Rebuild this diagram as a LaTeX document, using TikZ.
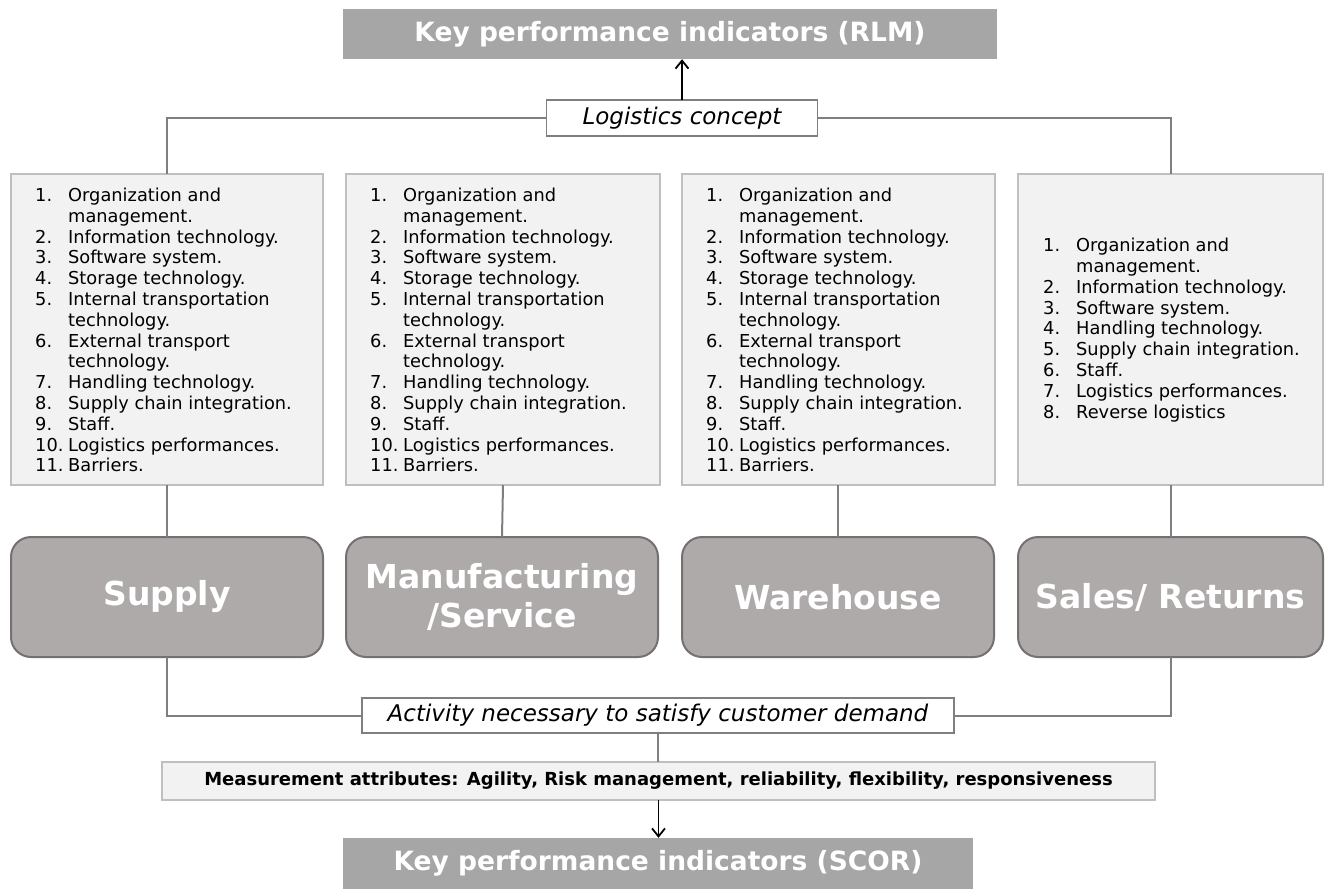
\documentclass[tikz,border=0pt]{standalone}
\usepackage{fontspec}
\setmainfont{DejaVu Sans}
\usetikzlibrary{arrows.meta}
\definecolor{kpigray}{HTML}{A6A6A6}
\definecolor{rndfill}{HTML}{AEAAAA}
\definecolor{rndline}{HTML}{767171}
\definecolor{listfill}{HTML}{F2F2F2}
\definecolor{listline}{HTML}{BFBFBF}
\definecolor{conn}{HTML}{7F7F7F}
\newcommand\li[2]{\makebox[33pt][l]{#1}#2}
\tikzset{
  kpi/.style={fill=kpigray, draw=none, text=white, font={\fontsize{26.5}{30}\selectfont\bfseries}, inner sep=0pt},
  listbox/.style={fill=listfill, draw=listline, line width=2pt, inner sep=0pt, outer sep=0pt},
  listtext/.style={anchor=west, align=left, inner sep=0pt, font={\fontsize{17.8}{20.8}\selectfont}},
  rnd/.style={fill=rndfill, draw=rndline, line width=2pt, rounded corners=20pt, text=white, align=center, font={\fontsize{33}{39}\selectfont\bfseries}, inner sep=0pt, outer sep=0pt},
  label/.style={fill=white, draw=conn, line width=1.5pt, font={\fontsize{23}{27}\selectfont\itshape}, inner sep=0pt, outer sep=0pt},
  meas/.style={fill=listfill, draw=listline, line width=2pt, font={\fontsize{18}{21}\selectfont\bfseries}, inner sep=0pt, outer sep=0pt},
  gline/.style={draw=conn, line width=2pt},
  arr/.style={draw=black, line width=1.8pt, -{Straight Barb[length=8pt,width=13pt,line width=1.8pt]}},
}
\begin{document}
\begin{tikzpicture}[x=1pt,y=-1pt]
\useasboundingbox (0,0) rectangle (1325,896);
% top KPI
\node[kpi, minimum width=654pt, minimum height=50pt] (kpi1) at (670,34) {Key performance indicators (RLM)};
\node[label, minimum width=271pt, minimum height=36pt] (lc) at (682,118) {Logistics concept};
% list boxes
\node[listbox, minimum width=312pt, minimum height=311pt] (b1) at (167,329.5) {};
\node[listbox, minimum width=314pt, minimum height=311pt] (b2) at (503,329.5) {};
\node[listbox, minimum width=313pt, minimum height=311pt] (b3) at (838,329.5) {};
\node[listbox, minimum width=305pt, minimum height=311pt] (b4) at (1170.5,329.5) {};
\foreach \b/\x in {b1/35, b2/370, b3/706} {
\node[listtext] (\b t) at (\x,330) {%
\li{1.}{Organization and}\\
\li{}{management.}\\
\li{2.}{Information technology.}\\
\li{3.}{Software system.}\\
\li{4.}{Storage technology.}\\
\li{5.}{Internal transportation}\\
\li{}{technology.}\\
\li{6.}{External transport}\\
\li{}{technology.}\\
\li{7.}{Handling technology.}\\
\li{8.}{Supply chain integration.}\\
\li{9.}{Staff.}\\
\li{10.}{Logistics performances.}\\
\li{11.}{Barriers.}};
}
\node[listtext] (b4t) at (1043,330) {%
\li{1.}{Organization and}\\
\li{}{management.}\\
\li{2.}{Information technology.}\\
\li{3.}{Software system.}\\
\li{4.}{Handling technology.}\\
\li{5.}{Supply chain integration.}\\
\li{6.}{Staff.}\\
\li{7.}{Logistics performances.}\\
\li{8.}{Reverse logistics}};
% rounded boxes
\node[rnd, minimum width=312pt, minimum height=120pt] (r1) at (167,597) {Supply};
\node[rnd, minimum width=312pt, minimum height=120pt] (r2) at (502,597) {Manufacturing\\/Service};
\node[rnd, minimum width=312pt, minimum height=120pt] (r3) at (838,597) {Warehouse};
\node[rnd, minimum width=305pt, minimum height=120pt] (r4) at (1170.5,597) {Sales/ Returns};
% bottom
\node[label, minimum width=592pt, minimum height=35pt] (act) at (658,715.5) {Activity necessary to satisfy customer demand};
\node[meas, minimum width=993pt, minimum height=38pt] (ms) at (658.5,781) {Measurement attributes: Agility, Risk management, reliability, flexibility, responsiveness};
\node[kpi, minimum width=630pt, minimum height=51pt] (kpi2) at (658,863.5) {Key performance indicators (SCOR)};
% connectors
\draw[arr] (lc.north) -- (lc.north |- kpi1.south);
\draw[gline] (lc.west) -| (b1.north);
\draw[gline] (lc.east) -| (b4.north);
\draw[gline] (b1.south) -- (r1.north);
\draw[gline] (b2.south) -- (r2.north);
\draw[gline] (b3.south) -- (r3.north);
\draw[gline] (b4.south) -- (r4.north);
\draw[gline] (r1.south) |- (act.west);
\draw[gline] (r4.south) |- (act.east);
\draw[gline] (act.south) -- (act.south |- ms.north);
\draw[arr] (ms.south) -- (ms.south |- kpi2.north);
\end{tikzpicture}
\end{document}
